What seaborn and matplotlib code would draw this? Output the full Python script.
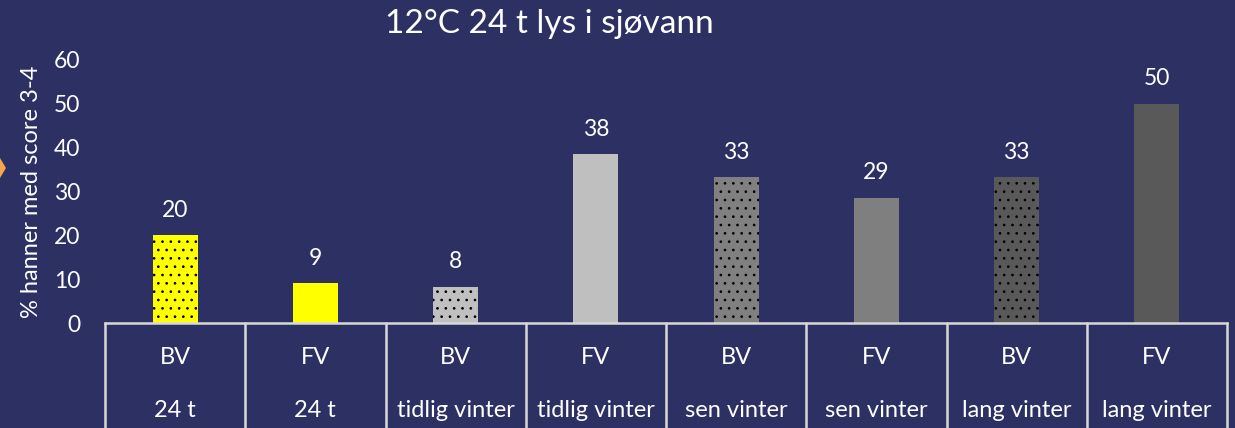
import matplotlib
matplotlib.use("Agg")
import matplotlib.pyplot as plt
import matplotlib.transforms as mtransforms
from matplotlib.patches import Polygon
import seaborn as sns
import pandas as pd

# data
groups = ["BV", "FV", "BV", "FV", "BV", "FV", "BV", "FV"]
periods = ["24 t", "24 t", "tidlig vinter", "tidlig vinter",
           "sen vinter", "sen vinter", "lang vinter", "lang vinter"]
values = [20.0, 9.1, 8.3, 38.5, 33.3, 28.6, 33.3, 50.0]
bar_colors = ["#FFFF00", "#FFFF00", "#C0C0C0", "#BFBFBF",
              "#808080", "#7F7F7F", "#595959", "#595959"]
dotted = [True, False, True, False, True, False, True, False]

bg = "#2D3063"
line_col = "#D9D9D9"

sns.set_theme(style="white")
plt.rcParams["font.family"] = ["Lato", "DejaVu Sans"]
plt.rcParams["hatch.color"] = "black"
plt.rcParams["hatch.linewidth"] = 0.7

df = pd.DataFrame({"key": [f"{g}|{p}" for g, p in zip(groups, periods)],
                   "value": values})

fig = plt.figure(figsize=(12.35, 4.28), dpi=100, facecolor=bg)
ax = fig.add_axes([105 / 1235, 105 / 428, 1122 / 1235, 263 / 428])
ax.set_facecolor(bg)

sns.barplot(data=df, x="key", y="value", hue="key", palette=bar_colors,
            width=0.32, legend=False, ax=ax, saturation=1)

for patch, dot in zip(ax.patches, dotted):
    patch.set_edgecolor("black")
    patch.set_linewidth(0)
    if dot:
        patch.set_hatch("..")

for i, v in enumerate(values):
    ax.annotate(f"{v:.0f}", (i, v), xytext=(0, 18), textcoords="offset points",
                ha="center", va="center", color="white", fontsize=16.5)

ax.set_ylim(0, 60)
ax.set_xlim(-0.5, len(values) - 0.5)
ax.set_yticks(range(0, 61, 10))
ax.tick_params(axis="y", colors="white", labelsize=16.5, length=0, pad=18)
ax.set_xticks([])
ax.set_xlabel("")
ax.set_ylabel("% hanner med score 3-4", color="white", fontsize=17, labelpad=8)

for side in ["top", "right", "left"]:
    ax.spines[side].set_visible(False)
ax.spines["bottom"].set_color(line_col)
ax.spines["bottom"].set_linewidth(1.8)

# two-row category table below the axis
trans = mtransforms.blended_transform_factory(ax.transData, ax.transAxes)
for i, (g, p) in enumerate(zip(groups, periods)):
    ax.text(i, -0.133, g, transform=trans, ha="center", va="center",
            color="white", fontsize=17)
    ax.text(i, -0.331, p, transform=trans, ha="center", va="center",
            color="white", fontsize=17)
for b in range(len(values) + 1):
    ax.plot([b - 0.5, b - 0.5], [0, -0.45], transform=trans, color=line_col,
            lw=1.8, clip_on=False)

fig.text(0.445, 0.943, "12°C 24 t lys i sjøvann", ha="center", va="center",
         color="white", fontsize=24)

# small orange marker at the left edge
fig.patches.append(Polygon([[0, 158], [6, 168], [0, 178]], closed=True,
                           facecolor="#F5A54A", edgecolor="none"))
for p in fig.patches:
    p.set_transform(mtransforms.Affine2D().scale(1, -1).translate(0, 428))

fig.savefig("out.png", dpi=100, facecolor=bg)
